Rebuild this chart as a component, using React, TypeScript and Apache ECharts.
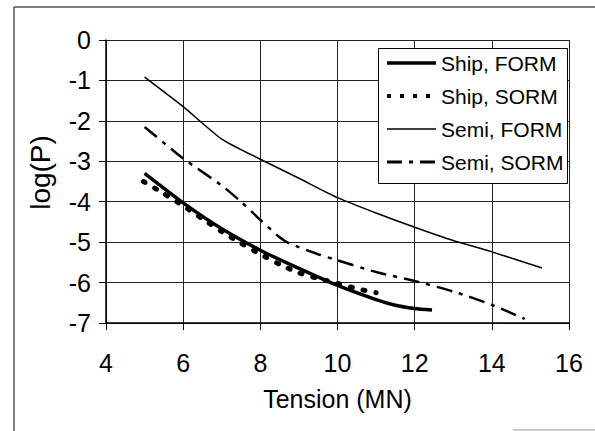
import React, { useEffect, useRef } from "react";
import * as echarts from "echarts";

const xTicks = { min: 4, max: 16, interval: 2 };
const yTicks = { min: -7, max: 0, interval: 1 };

const seriesNames = ["Ship, FORM", "Ship, SORM", "Semi, FORM", "Semi, SORM"];

const shipForm: number[][] = [
  [5, -3.3], [6, -4.03], [7, -4.67], [8, -5.2], [9, -5.65], [10, -6.07],
  [11, -6.42], [11.5, -6.56], [12, -6.64], [12.45, -6.68],
];
const shipSorm: number[][] = [
  [4.97, -3.5], [5.5, -3.8], [6, -4.1], [6.5, -4.42], [7, -4.74], [7.5, -5.03],
  [8, -5.3], [8.5, -5.55], [9, -5.76], [9.5, -5.9], [10, -6.02], [10.5, -6.15], [11, -6.25],
];
const semiForm: number[][] = [
  [5, -0.92], [6, -1.65], [7, -2.45], [8, -2.95], [9, -3.42], [10, -3.9],
  [11, -4.28], [12, -4.63], [13, -4.96], [14, -5.24], [15.3, -5.64],
];
const semiSorm: number[][] = [
  [5, -2.15], [6, -2.93], [7, -3.6], [7.5, -4.0], [8, -4.45], [8.5, -4.88],
  [8.75, -5.03], [9.5, -5.3], [10, -5.45], [11, -5.74], [12, -5.96], [13, -6.22],
  [14, -6.55], [14.85, -6.9],
];

const FONT = "'Liberation Sans', Arial, sans-serif";

const lineStyles: any[] = [
  { color: "#000", width: 3.5, type: "solid" },
  { color: "#000", width: 5, type: [2, 11], cap: "round" },
  { color: "#000", width: 1.5, type: "solid" },
  { color: "#000", width: 2.5, type: [16, 7, 4, 7] },
];
const legendLineStyles: any[] = [
  { color: "#000", width: 3.5, type: "solid" },
  { color: "#000", width: 4, type: [4, 9], cap: "butt" },
  { color: "#000", width: 1.5, type: "solid" },
  { color: "#000", width: 3, type: [15, 7, 4, 7] },
];

export default function App() {
  const ref = useRef<HTMLDivElement>(null);
  useEffect(() => {
    if (!ref.current) return;
    const chart = echarts.init(ref.current, undefined, { renderer: "svg" });
    const axisCommon = {
      axisLine: { show: true, onZero: false, lineStyle: { color: "#000", width: 1.5 } },
      axisTick: { show: true, inside: false, length: 7, lineStyle: { color: "#000", width: 1 } },
      splitLine: { show: true, lineStyle: { color: "#222", width: 1 } },
    };
    const dataSets = [shipForm, shipSorm, semiForm, semiSorm];
    chart.setOption({
      animation: false,
      backgroundColor: "#fff",
      textStyle: { fontFamily: FONT, color: "#000" },
      grid: { left: 106, right: 26, top: 40, bottom: 108, containLabel: false },
      xAxis: {
        type: "value",
        ...xTicks,
        name: "Tension (MN)",
        nameLocation: "middle",
        nameGap: 63,
        ...axisCommon,
        nameTextStyle: { color: "#000", fontSize: 25, fontFamily: FONT },
        axisLabel: { color: "#000", fontSize: 25, fontFamily: FONT, margin: 27 },
      },
      yAxis: {
        type: "value",
        ...yTicks,
        name: "log(P)",
        nameLocation: "middle",
        nameGap: 52,
        ...axisCommon,
        nameTextStyle: { color: "#000", fontSize: 28, fontFamily: FONT, padding: [0, 0, 0, 18] },
        axisLabel: { color: "#000", fontSize: 25, fontFamily: FONT, margin: 15 },
      },
      legend: {
        show: true,
        orient: "vertical",
        left: 385,
        top: 52,
        padding: 0,
        itemWidth: 49,
        itemHeight: 14,
        itemGap: 11,
        itemStyle: { color: "rgba(0,0,0,0)", borderWidth: 0, opacity: 0 },
        textStyle: { color: "#000", fontSize: 21, fontFamily: FONT, lineHeight: 22 },
        data: seriesNames.map((name, i) => ({ name, lineStyle: legendLineStyles[i] })),
        z: 10,
      },
      graphic: [
        {
          type: "rect",
          z: 8,
          shape: { x: 378.5, y: 48.5, width: 189, height: 135 },
          style: { fill: "#fff", stroke: "#000", lineWidth: 1 },
        },
        {
          type: "line",
          shape: { x1: 14, y1: 7, x2: 14, y2: 431 },
          style: { stroke: "#000", lineWidth: 1 },
        },
        {
          type: "line",
          shape: { x1: 14, y1: 7, x2: 595, y2: 7 },
          style: { stroke: "#000", lineWidth: 1 },
        },
        {
          type: "line",
          shape: { x1: 513, y1: 430, x2: 595, y2: 430 },
          style: { stroke: "#999", lineWidth: 1 },
        },
      ],
      series: seriesNames.map((name, i) => ({
        name,
        type: "line",
        data: dataSets[i],
        symbol: "none",
        smooth: 0.2,
        lineStyle: lineStyles[i],
        itemStyle: { color: "#000" },
      })),
    });
    return () => chart.dispose();
  }, []);
  return (
    <div
      ref={ref}
      style={{ position: "fixed", left: 0, top: 0, width: 595, height: 431, background: "#fff" }}
    />
  );
}
